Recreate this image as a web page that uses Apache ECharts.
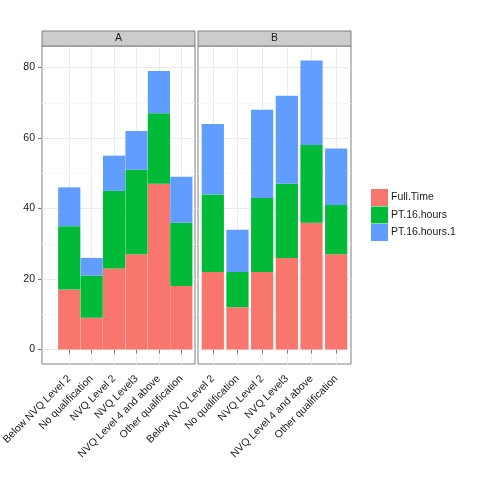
<!DOCTYPE html>
<html>
<head>
<meta charset="utf-8">
<script src="https://cdn.jsdelivr.net/npm/echarts@6/dist/echarts.min.js"></script>
<style>html,body{margin:0;padding:0;background:#fff}#c{width:480px;height:480px}</style>
</head>
<body>
<div id="c"></div>
<script>
const categories = ["Below NVQ Level 2","No qualification","NVQ Level 2","NVQ Level3","NVQ Level 4 and above","Other qualification"];
const panels = ["A","B"];
const seriesNames = ["Full.Time","PT.16.hours","PT.16.hours.1"];
const fullTimeA = [17, 9, 23, 27, 47, 18];
const pt16A     = [18, 12, 22, 24, 20, 18];
const pt16_1A   = [11, 5, 10, 11, 12, 13];
const fullTimeB = [22, 12, 22, 26, 36, 27];
const pt16B     = [22, 10, 21, 21, 22, 14];
const pt16_1B   = [20, 12, 25, 25, 24, 16];
const yTicks = [0, 20, 40, 60, 80];

const colors = ["#F8766D", "#00BA38", "#619CFF"];
const panelData = [[fullTimeA, pt16A, pt16_1A], [fullTimeB, pt16B, pt16_1B]];
const FONT = "Liberation Sans, Arial, sans-serif";
const panelLeft = [42, 198], panelW = 153, panelTop = 46, panelH = 318;
const unit = panelW / 6.2;
const yMin = -4.1, yMax = 86.1;

const grid = [], xAxis = [], yAxis = [], series = [], graphic = [];
panels.forEach((p, i) => {
  grid.push({left: panelLeft[i], top: panelTop, width: panelW, height: panelH, show: true,
    backgroundColor: '#ffffff', borderColor: '#7f7f7f', borderWidth: 1});
});
panels.forEach((p, i) => {
  grid.push({left: panelLeft[i] + unit * 0.1, top: panelTop, width: unit * 6, height: panelH});
});
panels.forEach((p, i) => {
  xAxis.push({type: 'value', gridIndex: i, min: 0, max: 1, show: false});
  yAxis.push({type: 'value', gridIndex: i, min: yMin, max: yMax, minInterval: 20, maxInterval: 20,
    axisLine: {show: false},
    axisTick: {show: i === 0, length: 4, customValues: yTicks, lineStyle: {color: '#7f7f7f'}},
    axisLabel: {show: i === 0, customValues: yTicks, fontSize: 10.5, color: '#1a1a1a', fontFamily: FONT, margin: 7},
    splitLine: {show: true, lineStyle: {color: '#ebebeb', width: 1}},
    minorTick: {show: false, splitNumber: 2},
    minorSplitLine: {show: true, lineStyle: {color: '#f7f7f7', width: 1}}
  });
});
panels.forEach((p, i) => {
  xAxis.push({type: 'category', gridIndex: 2 + i, data: categories,
    axisLine: {show: false},
    axisTick: {show: true, alignWithLabel: true, length: 4, lineStyle: {color: '#7f7f7f'}},
    axisLabel: {rotate: 45, fontSize: 10.5, color: '#1a1a1a', fontFamily: FONT, margin: 13, interval: 0},
    splitLine: {show: true, alignWithLabel: true, lineStyle: {color: '#ebebeb', width: 1}}
  });
  yAxis.push({type: 'value', gridIndex: 2 + i, min: yMin, max: yMax, show: false, splitLine: {show: false}});
  seriesNames.forEach((name, k) => {
    series.push({type: 'bar', name: name, xAxisIndex: 2 + i, yAxisIndex: 2 + i, stack: 'panel' + p,
      data: panelData[i][k], barWidth: unit * 0.9, itemStyle: {color: colors[k]}, z: 3});
  });
  graphic.push({type: 'rect', shape: {x: panelLeft[i], y: 31, width: panelW, height: 15},
    style: {fill: '#cccccc', stroke: '#7f7f7f', lineWidth: 1}, z: 10});
  graphic.push({type: 'text', x: panelLeft[i] + panelW / 2, y: 38.5,
    style: {text: p, fontSize: 10.5, fontFamily: FONT, fill: '#1a1a1a', align: 'center', verticalAlign: 'middle'}, z: 11});
});

const chart = echarts.init(document.getElementById('c'), null, {renderer: 'canvas'});
chart.setOption({
  animation: false,
  backgroundColor: '#ffffff',
  grid, xAxis, yAxis, series, graphic,
  legend: {data: seriesNames, orient: 'vertical', left: 366, top: 184, itemWidth: 17, itemHeight: 17,
    itemGap: 0.5, icon: 'rect', textStyle: {fontSize: 10.5, color: '#1a1a1a', fontFamily: FONT, padding: [0, 0, 0, -2]}},
});
</script>
</body>
</html>
